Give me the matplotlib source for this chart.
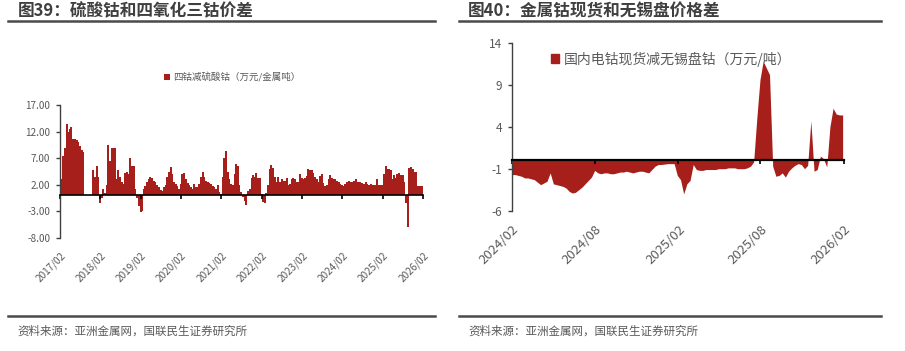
import matplotlib
matplotlib.use("Agg")
import matplotlib.pyplot as plt
import matplotlib.dates as mdates
from matplotlib.lines import Line2D
import pandas as pd

plt.rcParams['font.family'] = ['Noto Sans CJK SC', 'DejaVu Sans']
plt.rcParams['axes.unicode_minus'] = False

# ---------------- data ----------------
left_title = "图39：硫酸钴和四氧化三钴价差"
right_title = "图40：金属钴现货和无锡盘价格差"
source_text = "资料来源：亚洲金属网，国联民生证券研究所"
left_label = "四钴减硫酸钴（万元/金属吨）"
right_label = "国内电钴现货减无锡盘钴（万元/吨）"

left_start = "2017-02-01"   # semi-monthly observations
left_values = [
    2.0, 3.0, 7.5, 9.0, 13.5, 12.0, 12.5, 12.8, 10.7, 10.7,
    10.4, 10.0, 9.2, 8.6, 8.2, 0.0, 0.0, 0.0, 0.0, 0.0,
    4.8, 3.5, 5.5, 3.5, -1.5, -0.5, 1.2, 0.5, 2.0, 9.5,
    6.5, 9.0, 9.0, 9.0, 3.0, 4.8, 3.5, 2.5, 2.2, 4.2,
    4.5, 4.0, 7.0, 5.5, 5.5, 1.2, -0.5, -2.0, -3.2, -3.0,
    1.2, 1.7, 2.5, 3.0, 3.5, 3.2, 2.8, 2.5, 2.0, 1.5,
    1.0, 0.8, 1.5, 2.0, 3.5, 4.5, 5.3, 4.0, 2.5, 2.2,
    1.8, 1.2, 2.2, 4.0, 4.2, 3.0, 2.3, 2.0, 1.6, 1.3,
    2.2, 1.5, 1.6, 2.2, 3.5, 4.5, 3.5, 2.8, 2.5, 2.3,
    2.1, 1.8, 1.6, 1.3, 2.0, 0.6, 0.2, 3.5, 7.0, 8.3,
    4.5, 3.0, 2.2, 2.0, 4.0, 6.0, 5.5, 2.0, 0.6, -0.3,
    -1.0, -1.8, 0.8, 1.3, 3.3, 3.8, 3.5, 4.3, 3.2, 3.2,
    0.3, -1.2, -1.5, 0.5, 2.0, 5.0, 5.7, 5.2, 3.5, 2.5,
    3.5, 2.5, 3.0, 2.7, 2.8, 3.2, 2.0, 2.2, 3.0, 3.3,
    3.0, 2.5, 2.5, 4.0, 3.3, 3.0, 3.2, 3.6, 5.0, 4.8,
    4.7, 4.3, 3.5, 3.0, 2.5, 3.6, 4.0, 2.3, 1.8, 2.0,
    3.0, 3.8, 3.2, 3.0, 3.0, 2.7, 2.5, 2.2, 2.0, 1.8,
    2.2, 2.5, 2.8, 2.6, 2.5, 2.7, 3.0, 2.6, 2.5, 2.5,
    2.3, 2.2, 2.5, 2.2, 2.0, 2.2, 2.0, 2.0, 2.0, 3.0,
    2.0, 2.0, 2.0, 4.0, 5.6, 5.0, 5.0, 4.8, 3.0, 3.8,
    3.2, 4.0, 4.2, 3.8, 3.8, 2.5, -1.5, -6.0, 5.2, 5.3,
    5.0, 4.5, 4.5, 1.8, 1.8, 1.8, 1.8,
]
left_yticks = [-8, -3, 2, 7, 12, 17]
left_xticklabels = ["2017/02", "2018/02", "2019/02", "2020/02", "2021/02",
                    "2022/02", "2023/02", "2024/02", "2025/02", "2026/02"]

right_start = "2024-02-01"  # weekly observations
right_values = [
    -1.7, -1.7, -1.8, -1.9, -2.1, -2.1, -2.2, -2.3, -2.6, -2.9,
    -2.7, -2.5, -1.5, -2.8, -2.9, -3.0, -3.1, -3.3, -3.7, -3.9,
    -3.8, -3.5, -3.2, -2.8, -2.4, -2.0, -1.2, -1.5, -1.6, -1.5,
    -1.5, -1.6, -1.6, -1.5, -1.4, -1.4, -1.3, -1.4, -1.5, -1.4,
    -1.3, -1.3, -1.4, -1.5, -1.1, -0.7, -0.5, -0.5, -0.45, -0.4,
    -0.4, -0.4, -1.8, -2.3, -4.0, -2.8, -2.4, -0.5, -1.1, -1.2,
    -1.2, -1.1, -1.1, -1.1, -1.1, -1.0, -1.0, -1.0, -0.9, -0.9,
    -0.9, -1.0, -1.0, -1.0, -0.9, -0.7, -0.2, 5.0, 9.6, 11.8,
    11.0, 10.2, -0.7, -1.9, -1.8, -1.5, -2.0, -1.3, -0.9, -0.6,
    -0.4, -0.5, -1.0, -0.6, 4.7, -1.3, -1.1, 0.5, 0.2, -0.8,
    4.0, 6.2, 5.5, 5.4, 5.4,
]
right_yticks = [-6, -1, 4, 9, 14]
right_xticklabels = ["2024/02", "2024/08", "2025/02", "2025/08", "2026/02"]

# ---------------- styles ----------------
RED = "#A61F1A"
GRAY = "#595959"
DARK = "#3F3F3F"
W, H = 905, 351

fig = plt.figure(figsize=(W / 100, H / 100), dpi=100)


def fx(px):
    return px / W


def fy(py):
    return 1 - py / H


# titles and rules
fig.text(fx(18), fy(11), left_title, fontsize=12, fontweight='bold', color=DARK, va='center', ha='left')
fig.text(fx(468), fy(11), right_title, fontsize=12, fontweight='bold', color=DARK, va='center', ha='left')
for x0, x1 in [(8, 435), (459, 881)]:
    fig.add_artist(Line2D([fx(x0), fx(x1)], [fy(21), fy(21)], color='#4a4a4a', lw=1.8))
    fig.add_artist(Line2D([fx(x0), fx(x1)], [fy(316), fy(316)], color='#4a4a4a', lw=1.8))
fig.text(fx(17), fy(331), source_text, fontsize=8.3, color=GRAY, va='center', ha='left')
fig.text(fx(468), fy(331), source_text, fontsize=8.3, color=GRAY, va='center', ha='left')


def setup_axis(ax, ymin, ymax, yticks, yfmt, tick_dates, tick_labels, ysize, xsize, zero_lw):
    ax.set_ylim(ymin, ymax)
    ax.set_yticks(yticks)
    ax.set_yticklabels([yfmt.format(v) for v in yticks])
    ax.spines['top'].set_visible(False)
    ax.spines['right'].set_visible(False)
    ax.spines['left'].set_color('#404040')
    ax.spines['left'].set_linewidth(1.0)
    ax.spines['bottom'].set_position(('data', 0))
    ax.spines['bottom'].set_color('black')
    ax.spines['bottom'].set_linewidth(zero_lw)
    ax.spines['bottom'].set_zorder(5)
    ax.tick_params(axis='y', direction='out', length=3, width=1, color='#404040',
                   labelsize=ysize, labelcolor=GRAY, pad=4)
    tnum = mdates.date2num(tick_dates)
    ax.set_xticks(tnum)
    ax.tick_params(axis='x', direction='out', length=3, width=1.2, color='black', labelbottom=False)
    sec = ax.secondary_xaxis(0.0)
    sec.spines['bottom'].set_visible(False)
    sec.set_xticks(tnum)
    sec.set_xticklabels(tick_labels, rotation=45, ha='right', rotation_mode='anchor')
    sec.tick_params(axis='x', length=0, pad=9, labelsize=xsize, labelcolor=GRAY)
    ax.set_xlim(tnum[0], tnum[-1])


# ---------------- left chart ----------------
axL = fig.add_axes([fx(60), fy(238), fx(423) - fx(60), fy(105) - fy(238)])
left_dates = pd.date_range(left_start, periods=len(left_values), freq='SMS')
axL.bar(mdates.date2num(left_dates), left_values, width=18, color=RED, linewidth=0, label=left_label)
left_tick_dates = pd.date_range(left_start, periods=len(left_xticklabels), freq='12MS')
setup_axis(axL, -8, 17, left_yticks, "{:.2f}", left_tick_dates, left_xticklabels, 7.2, 7.2, 1.2)
fig.legend(handles=axL.get_legend_handles_labels()[0], labels=[left_label], loc='center',
           bbox_to_anchor=(fx(232), fy(77)), bbox_transform=fig.transFigure, frameon=False,
           fontsize=6.8, labelcolor=GRAY, handlelength=0.6, handleheight=0.6, handletextpad=0.3)

# ---------------- right chart ----------------
axR = fig.add_axes([fx(512), fy(210.7), fx(844) - fx(512), fy(42.7) - fy(210.7)])
right_dates = pd.date_range(right_start, periods=len(right_values), freq='7D')
axR.fill_between(mdates.date2num(right_dates), 0, right_values, color=RED,
                 linewidth=0, label=right_label)
right_tick_dates = pd.date_range(right_start, periods=len(right_xticklabels), freq='6MS')
setup_axis(axR, -6, 14, right_yticks, "{:d}", right_tick_dates, right_xticklabels, 8.5, 9.5, 1.6)
fig.legend(handles=[plt.Rectangle((0, 0), 1, 1, color=RED)], labels=[right_label], loc='center',
           bbox_to_anchor=(fx(671), fy(59)), bbox_transform=fig.transFigure, frameon=False,
           fontsize=10, labelcolor=GRAY, handlelength=0.6, handleheight=0.6, handletextpad=0.3)

fig.savefig("out.png", dpi=100)
